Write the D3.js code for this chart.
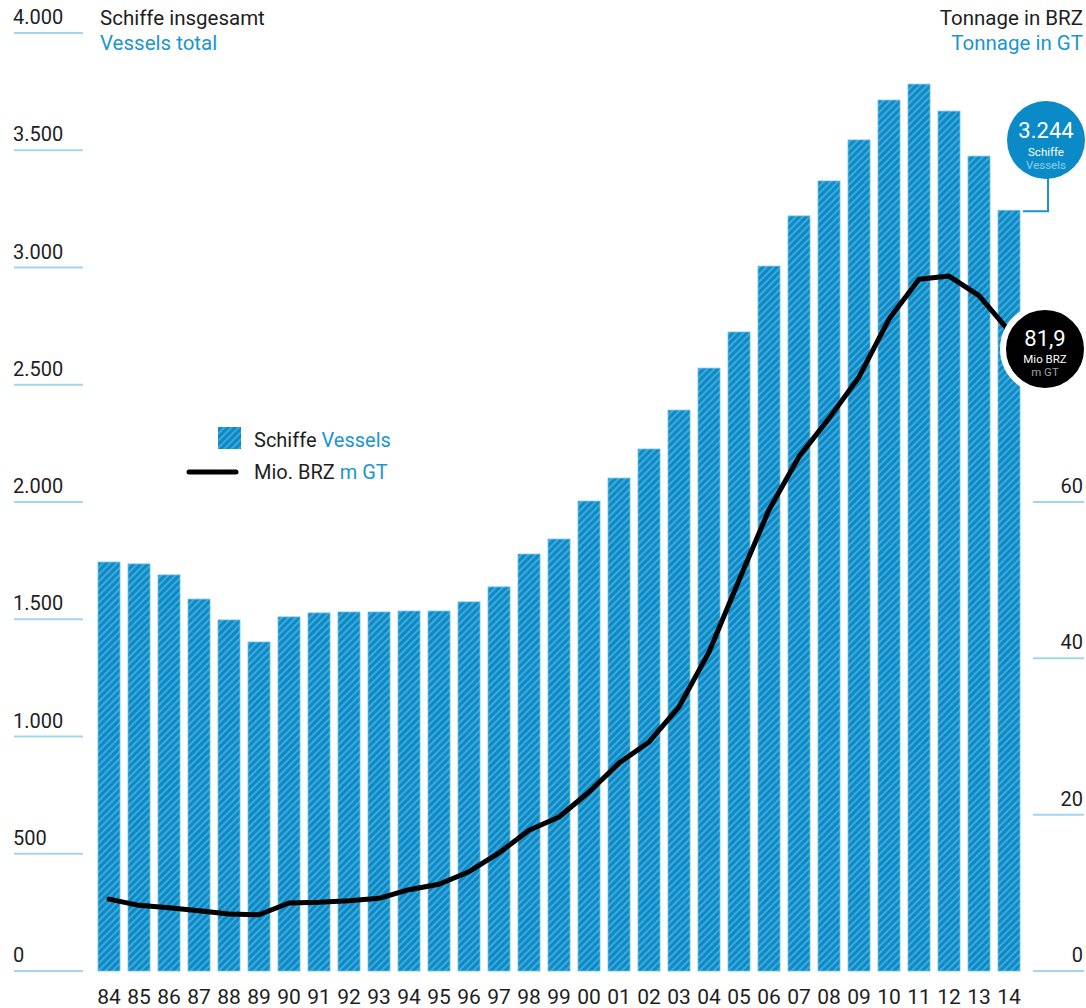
<!DOCTYPE html>
<html>
<head>
<meta charset="utf-8">
<script src="https://cdn.jsdelivr.net/npm/d3@7"></script>
<style>
  body { margin: 0; background: #fff; }
  text { font-family: Roboto, 'DejaVu Sans', sans-serif; }
</style>
</head>
<body>
<div id="chart"></div>
<script>
'use strict';

const years = ['84', '85', '86', '87', '88', '89', '90', '91', '92', '93', '94',
  '95', '96', '97', '98', '99', '00', '01', '02', '03', '04', '05', '06', '07',
  '08', '09', '10', '11', '12', '13', '14'];

// Schiffe insgesamt / vessels total
const vessels = [1744, 1736, 1689, 1586, 1497, 1403, 1510, 1527, 1531, 1531,
  1535, 1535, 1574, 1638, 1778, 1842, 2004, 2102, 2226, 2392, 2571, 2725,
  3006, 3220, 3369, 3544, 3714, 3782, 3667, 3475, 3244];

// Mio. BRZ / m GT
const tonnage = [9.2, 8.4, 8.1, 7.7, 7.3, 7.2, 8.7, 8.8, 9.0, 9.3, 10.4, 11.1,
  12.7, 15.1, 18.0, 19.7, 22.9, 26.6, 29.3, 33.8, 40.8, 50.0, 59.0, 65.8,
  70.7, 76.0, 83.4, 88.5, 88.9, 86.4, 81.9];

const leftTicks = [0, 500, 1000, 1500, 2000, 2500, 3000, 3500, 4000];
// the 80 tick sits under the tonnage callout, so it is not labelled
const rightTicks = [0, 20, 40, 60];

const W = 1086, H = 1008;
const BLUE = '#0a8ac7';
const STRIPE = '#5ab5e0';
const TEXT_BLUE = '#1a95cf';
const RULE = '#a3d5ef';
const INK = '#1e1e1e';

const svg = d3.select('#chart').append('svg')
  .attr('width', W)
  .attr('height', H);

const defs = svg.append('defs');
const pattern = defs.append('pattern')
  .attr('id', 'hatch')
  .attr('patternUnits', 'userSpaceOnUse')
  .attr('width', 5)
  .attr('height', 5)
  .attr('patternTransform', 'rotate(45)');
pattern.append('rect')
  .attr('width', 5).attr('height', 5).attr('fill', BLUE);
pattern.append('line')
  .attr('x1', 1).attr('y1', 0).attr('x2', 1).attr('y2', 5)
  .attr('stroke', STRIPE).attr('stroke-width', 1.4);

const x = d3.scaleBand()
  .domain(years)
  .range([94, 1024])
  .paddingInner(8 / 30)
  .paddingOuter(4 / 30);

const yLeft = d3.scaleLinear().domain([0, 4000]).range([971, 33]);
const yRight = d3.scaleLinear().domain([0, 120]).range([971, 33]);

// left axis: labels sitting on short light-blue rules
const fmt = d3.format(',');
const fmtDe = v => fmt(v).replace(/,/g, '.');

const leftAxis = svg.append('g');
leftTicks.forEach(t => {
  leftAxis.append('line')
    .attr('x1', 14).attr('x2', 83)
    .attr('y1', yLeft(t)).attr('y2', yLeft(t))
    .attr('stroke', RULE).attr('stroke-width', 2);
  leftAxis.append('text')
    .attr('x', 13).attr('y', yLeft(t) - 9)
    .attr('font-size', 20)
    .attr('fill', INK)
    .text(fmtDe(t));
});

const rightAxis = svg.append('g');
rightTicks.forEach(t => {
  rightAxis.append('line')
    .attr('x1', 1033).attr('x2', 1084)
    .attr('y1', yRight(t)).attr('y2', yRight(t))
    .attr('stroke', RULE).attr('stroke-width', 2);
  rightAxis.append('text')
    .attr('x', 1083).attr('y', yRight(t) - 9)
    .attr('font-size', 20)
    .attr('text-anchor', 'end')
    .attr('fill', INK)
    .text(t);
});

// axis titles
svg.append('text').attr('x', 100).attr('y', 25)
  .attr('font-size', 20.5).attr('fill', INK).text('Schiffe insgesamt');
svg.append('text').attr('x', 100).attr('y', 50)
  .attr('font-size', 20.5).attr('fill', TEXT_BLUE).text('Vessels total');

svg.append('text').attr('x', 1083).attr('y', 25)
  .attr('font-size', 20.5).attr('text-anchor', 'end').attr('fill', INK)
  .text('Tonnage in BRZ');
svg.append('text').attr('x', 1083).attr('y', 50)
  .attr('font-size', 20.5).attr('text-anchor', 'end').attr('fill', TEXT_BLUE)
  .text('Tonnage in GT');

// bars
svg.append('g').selectAll('rect')
  .data(vessels)
  .join('rect')
  .attr('x', (d, i) => x(years[i]))
  .attr('y', d => yLeft(d))
  .attr('width', x.bandwidth())
  .attr('height', d => yLeft(0) - yLeft(d))
  .attr('fill', 'url(#hatch)')
  .attr('stroke', '#6fc0e6')
  .attr('stroke-width', 0.8);

// x labels
svg.append('g').selectAll('text')
  .data(years)
  .join('text')
  .attr('x', d => x(d) + x.bandwidth() / 2)
  .attr('y', 1004)
  .attr('text-anchor', 'middle')
  .attr('font-size', 21)
  .attr('fill', INK)
  .text(d => d);

// tonnage line
const line = d3.line()
  .x((d, i) => x(years[i]) + x.bandwidth() / 2)
  .y(d => yRight(d));

svg.append('path')
  .datum(tonnage)
  .attr('d', line)
  .attr('fill', 'none')
  .attr('stroke', '#000')
  .attr('stroke-width', 5)
  .attr('stroke-linejoin', 'round')
  .attr('stroke-linecap', 'round');

// legend
const legend = svg.append('g');
legend.append('rect')
  .attr('x', 218).attr('y', 427).attr('width', 23).attr('height', 22)
  .attr('fill', 'url(#hatch)');
const l1 = legend.append('text').attr('x', 254).attr('y', 447)
  .attr('font-size', 20).attr('fill', INK);
l1.append('tspan').text('Schiffe ');
l1.append('tspan').attr('fill', TEXT_BLUE).text('Vessels');

legend.append('line')
  .attr('x1', 189).attr('x2', 236).attr('y1', 472).attr('y2', 472)
  .attr('stroke', '#000').attr('stroke-width', 5)
  .attr('stroke-linecap', 'round');
const l2 = legend.append('text').attr('x', 254).attr('y', 479)
  .attr('font-size', 20).attr('fill', INK);
l2.append('tspan').text('Mio. BRZ ');
l2.append('tspan').attr('fill', TEXT_BLUE).text('m GT');

// last-value callout: vessels
const lastV = vessels[vessels.length - 1];
const barTop = yLeft(lastV) + 1;
svg.append('path')
  .attr('d', `M1048,170 V${barTop} H1023`)
  .attr('fill', 'none')
  .attr('stroke', TEXT_BLUE)
  .attr('stroke-width', 2);
svg.append('circle')
  .attr('cx', 1046).attr('cy', 140).attr('r', 39)
  .attr('fill', BLUE);
svg.append('text').attr('x', 1046).attr('y', 138)
  .attr('text-anchor', 'middle').attr('font-size', 22).attr('fill', '#fff')
  .text(fmtDe(lastV));
svg.append('text').attr('x', 1046).attr('y', 156)
  .attr('text-anchor', 'middle').attr('font-size', 11.5).attr('fill', '#fff')
  .text('Schiffe');
svg.append('text').attr('x', 1046).attr('y', 169)
  .attr('text-anchor', 'middle').attr('font-size', 11.5).attr('fill', '#8fd0ef')
  .text('Vessels');

// last-value callout: tonnage
const lastT = tonnage[tonnage.length - 1];
svg.append('circle')
  .attr('cx', 1045).attr('cy', 349).attr('r', 42)
  .attr('fill', '#000')
  .attr('stroke', '#fff')
  .attr('stroke-width', 6);
svg.append('text').attr('x', 1045).attr('y', 346)
  .attr('text-anchor', 'middle').attr('font-size', 22).attr('fill', '#fff')
  .text(String(lastT).replace('.', ','));
svg.append('text').attr('x', 1045).attr('y', 363)
  .attr('text-anchor', 'middle').attr('font-size', 11.5).attr('fill', '#fff')
  .text('Mio BRZ');
svg.append('text').attr('x', 1045).attr('y', 376)
  .attr('text-anchor', 'middle').attr('font-size', 11.5).attr('fill', '#a0a0a0')
  .text('m GT');
</script>
</body>
</html>
